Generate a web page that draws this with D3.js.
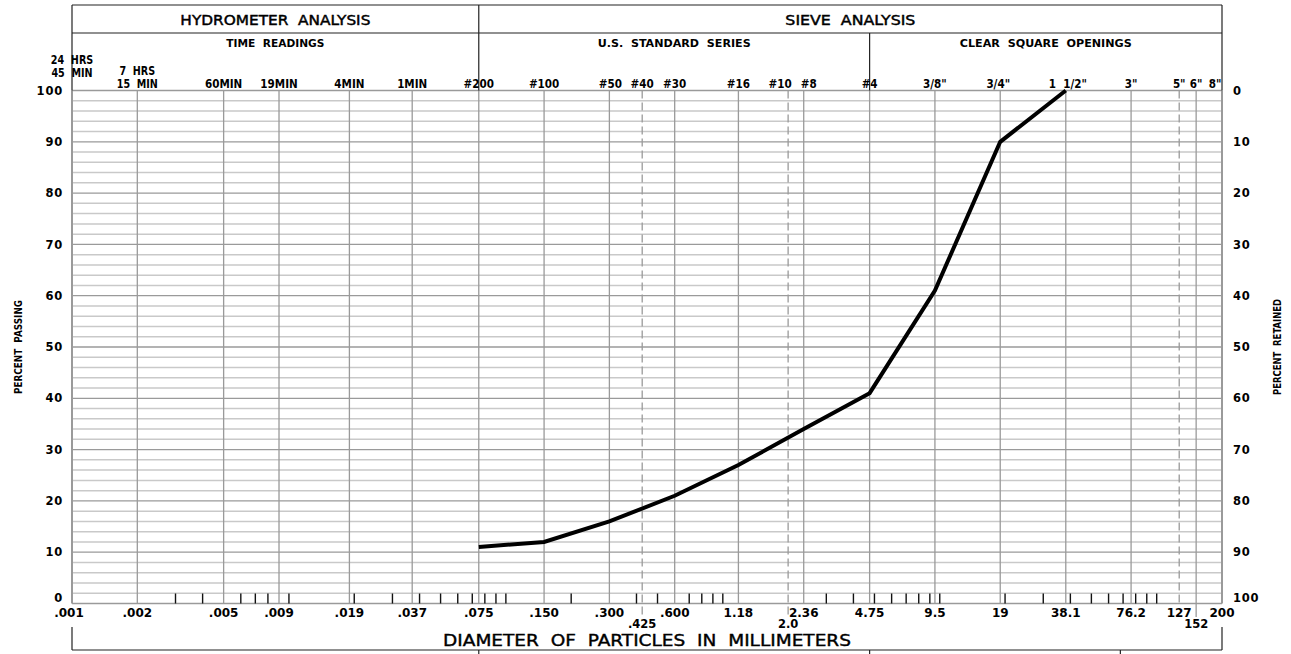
<!DOCTYPE html>
<html>
<head>
<meta charset="utf-8">
<script src="https://cdn.jsdelivr.net/npm/d3@7/dist/d3.min.js"></script>
<style>
  html, body { margin: 0; padding: 0; background: #fff; }
  svg { display: block; }
  text { font-family: "DejaVu Sans", sans-serif; fill: #000; }
</style>
</head>
<body>
<svg id="chart" width="1291" height="654"></svg>
<script>
// ---------------- DATA ----------------
const sieveSizes = [0.075, 0.15, 0.3, 0.6, 1.18, 2.36, 4.75, 9.5, 19, 38.1];
const percentPassing = [11, 12, 16, 21, 27, 34, 41, 61, 90, 100];

const gridSizes = [0.001, 0.002, 0.005, 0.009, 0.019, 0.037, 0.075, 0.15, 0.3, 0.425, 0.6,
                   1.18, 2.0, 2.36, 4.75, 9.5, 19, 38.1, 76.2, 127, 152, 200];
const bottomLabels = [".001", ".002", ".005", ".009", ".019", ".037", ".075", ".150", ".300", ".425", ".600",
                      "1.18", "2.0", "2.36", "4.75", "9.5", "19", "38.1", "76.2", "127", "152", "200"];
const topLabels = ["24  HRS|45  MIN", "7  HRS|15  MIN", "60MIN", "19MIN", "4MIN", "1MIN", "#200", "#100", "#50", "#40", "#30",
                   "#16", "#10", "#8", "#4", "3/8\"", "3/4\"", "1  1/2\"", "3\"", "5\"", "6\"", "8\""];
const dashedSizes = [0.425, 2.0, 127];
const lowerLabelSizes = [0.425, 2.0, 152];

const percentTicks = [0, 10, 20, 30, 40, 50, 60, 70, 80, 90, 100];
const minorPercentTicks = d3.range(0, 101, 2);

const headerSections = [
  { label: "HYDROMETER  ANALYSIS", from: 0.001, to: 0.075, row: 1, len: 190 },
  { label: "SIEVE  ANALYSIS", from: 0.075, to: 200, row: 1, len: 130 },
  { label: "TIME  READINGS", from: 0.001, to: 0.075, row: 2, len: 98 },
  { label: "U.S.  STANDARD  SERIES", from: 0.075, to: 4.75, row: 2, len: 153 },
  { label: "CLEAR  SQUARE  OPENINGS", from: 4.75, to: 200, row: 2, len: 172 }
];
const classBoundaries = [0.075, 4.75, 68];
const xTitle = "DIAMETER  OF  PARTICLES  IN  MILLIMETERS";
const yTitleLeft = "PERCENT  PASSING";
const yTitleRight = "PERCENT  RETAINED";

// ---------------- LAYOUT ----------------
const L = 72, R = 1222, T = 90.5, B = 603.5;
const svg = d3.select("#chart");
const x = d3.scaleLog().domain([0.001, 200]).range([L, R]);
const y = d3.scaleLinear().domain([0, 100]).range([B, T]);

const gMinor = "#c9c9c9", gMajor = "#9a9a9a", dark = "#222";

// minor horizontal grid
svg.append("g").selectAll("line").data(minorPercentTicks.filter(d => d % 10 !== 0)).join("line")
  .attr("x1", L).attr("x2", R).attr("y1", d => y(d)).attr("y2", d => y(d))
  .attr("stroke", gMinor).attr("stroke-width", 1.5);
// major horizontal grid
svg.append("g").selectAll("line").data(percentTicks).join("line")
  .attr("x1", L).attr("x2", R).attr("y1", d => y(d)).attr("y2", d => y(d))
  .attr("stroke", gMajor).attr("stroke-width", 1.3);

// vertical grid
svg.append("g").selectAll("line").data(gridSizes).join("line")
  .attr("x1", d => x(d)).attr("x2", d => x(d))
  .attr("y1", T)
  .attr("y2", d => lowerLabelSizes.includes(d) ? 617 : B)
  .attr("stroke", gMajor)
  .attr("stroke-width", (d, i) => (i === 0 || i === gridSizes.length - 1) ? 2 : 1.3)
  .attr("stroke-dasharray", d => dashedSizes.includes(d) ? "8,4" : null);

// minor ticks along the bottom (log ticks not coinciding with grid sizes)
const minorTicks = x.ticks().filter(d => d > 0.001 && d < 200 &&
  !gridSizes.some(g => Math.abs(g / d - 1) < 0.001));
svg.append("g").selectAll("line").data(minorTicks).join("line")
  .attr("x1", d => x(d)).attr("x2", d => x(d))
  .attr("y1", B - 10).attr("y2", B)
  .attr("stroke", "#111").attr("stroke-width", 1.4);

// header box
const hdr = svg.append("g").attr("stroke", dark).attr("stroke-width", 1.2);
hdr.append("line").attr("x1", L).attr("x2", R).attr("y1", 5).attr("y2", 5);
hdr.append("line").attr("x1", L).attr("x2", R).attr("y1", 33).attr("y2", 33);
hdr.append("line").attr("x1", L).attr("x2", L).attr("y1", 5).attr("y2", T);
hdr.append("line").attr("x1", R).attr("x2", R).attr("y1", 5).attr("y2", T);
hdr.append("line").attr("x1", x(0.075)).attr("x2", x(0.075)).attr("y1", 5).attr("y2", T);
hdr.append("line").attr("x1", x(4.75)).attr("x2", x(4.75)).attr("y1", 33).attr("y2", T);

svg.append("g").selectAll("text").data(headerSections).join("text")
  .attr("x", d => (x(d.from) + x(d.to)) / 2)
  .attr("y", d => d.row === 1 ? 25 : 47)
  .attr("text-anchor", "middle")
  .attr("font-size", d => d.row === 1 ? 13.5 : 10)
  .attr("font-weight", d => d.row === 1 ? "normal" : "bold")
  .attr("stroke", d => d.row === 1 ? "#000" : null)
  .attr("stroke-width", 0.45)
  .attr("textLength", d => d.len)
  .attr("lengthAdjust", "spacingAndGlyphs")
  .style("white-space", "pre")
  .text(d => d.label);

// top labels (tall, condensed)
const topNudge = { "#10": -8, "#8": 5, "8\"": -7, "3/4\"": -2, "1  1/2\"": 2, "#50": 1 };
const topG = svg.append("g").attr("font-weight", "bold").attr("text-anchor", "middle");
topLabels.forEach((lab, i) => {
  const cx = x(gridSizes[i]) + (topNudge[lab] || 0);
  const parts = lab.split("|");
  const twoLine = parts.length === 2;
  const lines = twoLine
    ? parts.map((p, j) => ({ t: p, y: (i === 0 ? 64 : 75) + j * 13 }))
    : [{ t: lab, y: 88 }];
  lines.forEach(l => {
    topG.append("text")
      .attr("font-size", twoLine ? 12 : 13)
      .attr("transform", `translate(${cx},${l.y}) scale(0.8,1)`)
      .style("white-space", "pre").text(l.t);
  });
});

// bottom labels
svg.append("g").attr("font-weight", "bold").attr("text-anchor", "middle")
  .selectAll("text").data(gridSizes).join("text")
  .attr("font-size", d => lowerLabelSizes.includes(d) ? 11.5 : 12)
  .attr("x", (d, i) => x(d) + (i === 0 ? -3 : 0))
  .attr("y", d => lowerLabelSizes.includes(d) ? 627.5 : 616.5)
  .text((d, i) => bottomLabels[i]);

// y labels left and right
svg.append("g").attr("font-size", 11.5).attr("font-weight", "bold").attr("text-anchor", "end")
  .attr("letter-spacing", 0.8)
  .selectAll("text").data(percentTicks).join("text")
  .attr("x", 63).attr("y", d => y(d) + (d === 0 ? -6 : 0)).attr("dy", "0.36em")
  .text(d => d);
svg.append("g").attr("font-size", 11.5).attr("font-weight", "bold").attr("text-anchor", "start")
  .attr("letter-spacing", 0.8)
  .selectAll("text").data(percentTicks).join("text")
  .attr("x", 1233).attr("y", d => y(d) + (d === 0 ? -6 : 0)).attr("dy", "0.36em")
  .text(d => 100 - d);

// axis titles (vertical)
svg.append("text").attr("transform", `translate(22,${(T + B) / 2}) rotate(-90)`)
  .attr("text-anchor", "middle").attr("font-size", 11).attr("font-weight", "bold")
  .attr("textLength", 94).attr("lengthAdjust", "spacingAndGlyphs")
  .style("white-space", "pre").text(yTitleLeft);
svg.append("text").attr("transform", `translate(1281,${(T + B) / 2}) rotate(-90)`)
  .attr("text-anchor", "middle").attr("font-size", 11).attr("font-weight", "bold")
  .attr("textLength", 96).attr("lengthAdjust", "spacingAndGlyphs")
  .style("white-space", "pre").text(yTitleRight);

// bottom bracket
const bot = svg.append("g").attr("stroke", dark).attr("stroke-width", 1.2);
bot.append("line").attr("x1", L).attr("x2", L).attr("y1", 627).attr("y2", 650);
bot.append("line").attr("x1", R).attr("x2", R).attr("y1", 627).attr("y2", 650);
bot.append("line").attr("x1", L).attr("x2", R).attr("y1", 650).attr("y2", 650);
bot.selectAll("line.cb").data(classBoundaries).join("line").attr("class", "cb")
  .attr("x1", d => x(d)).attr("x2", d => x(d)).attr("y1", 650).attr("y2", 656);

svg.append("text").attr("x", (L + R) / 2).attr("y", 646).attr("text-anchor", "middle")
  .attr("font-size", 16.5).attr("stroke", "#000").attr("stroke-width", 0.4)
  .attr("textLength", 408).attr("lengthAdjust", "spacingAndGlyphs")
  .style("white-space", "pre").text(xTitle);

// gradation curve
const pts = sieveSizes.map((s, i) => [s, percentPassing[i]]);
svg.append("path").datum(pts)
  .attr("d", d3.line().x(d => x(d[0])).y(d => y(d[1])))
  .attr("fill", "none").attr("stroke", "#000").attr("stroke-width", 4)
  .attr("stroke-linejoin", "miter");
</script>
</body>
</html>
